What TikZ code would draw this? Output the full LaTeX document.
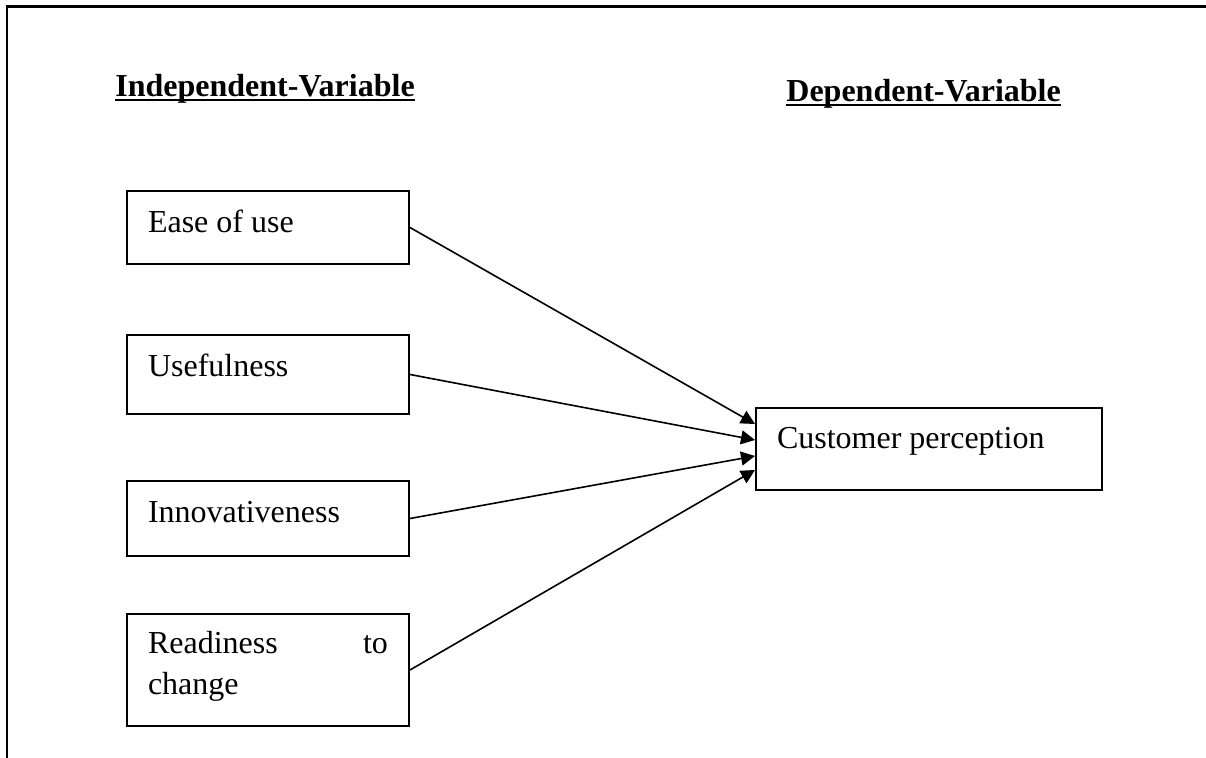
\documentclass[tikz,border=0pt]{standalone}
\usepackage{fontspec}
\setmainfont{Liberation Serif}
\usepackage{tikz}
\usetikzlibrary{arrows.meta, positioning}

\newcommand{\headul}[1]{\setbox0\hbox{#1}\rlap{\rule[-1.8pt]{\wd0}{1pt}}\box0}

\begin{document}
\begin{tikzpicture}[
        x=0.5pt, y=-0.5pt,
        every node/.style={font=\fontsize{16}{20.5}\selectfont},
        varbox/.style={rectangle, draw, line width=1pt, inner xsep=10.5pt,
                       inner ysep=0pt, text width=120pt, align=flush left,
                       text height=21pt, text depth=15.5pt},
        head/.style={anchor=base west, inner sep=0pt,
                     font=\fontsize{16}{20.5}\selectfont\bfseries},
        arr/.style={-{Triangle[length=7pt, width=7pt]}, line width=0.8pt},
    ]
        \useasboundingbox (0,0) rectangle (1206,758);

        % Frame
        \draw[line width=1.2pt] (7,758) -- (7,6.5) -- (1206,6.5);

        % Headings
        \node[head] (indep) at (115,97) {\headul{Independent-Variable}};
        \node[head] (dep) at (786,102) {\headul{Dependent-Variable}};

        % Independent variables
        \node[varbox, anchor=north west] (ease) at (126,190) {Ease of use};
        \node[varbox, below=34.5pt of ease, text depth=18.5pt] (useful) {Usefulness};
        \node[varbox, below=32.5pt of useful, text depth=16.5pt] (innov) {Innovativeness};
        \node[varbox, below=28pt of innov, text height=20pt, text depth=36pt] (ready)
            {Readiness\hspace{0pt plus 1filll}to\\change};

        % Dependent variable
        \node[varbox, anchor=north west, text width=152pt, text height=20.5pt,
              text depth=20.5pt] (cust) at (755,407) {Customer perception};

        % Arrows
        \draw[arr] (ease.east) -- ([yshift=12.5pt]cust.west);
        \draw[arr] (useful.east) -- ([yshift=4.5pt]cust.west);
        \draw[arr] (innov.east) -- ([yshift=-3.5pt]cust.west);
        \draw[arr] (ready.east) -- ([yshift=-10.5pt]cust.west);
    \end{tikzpicture}
\end{document}
